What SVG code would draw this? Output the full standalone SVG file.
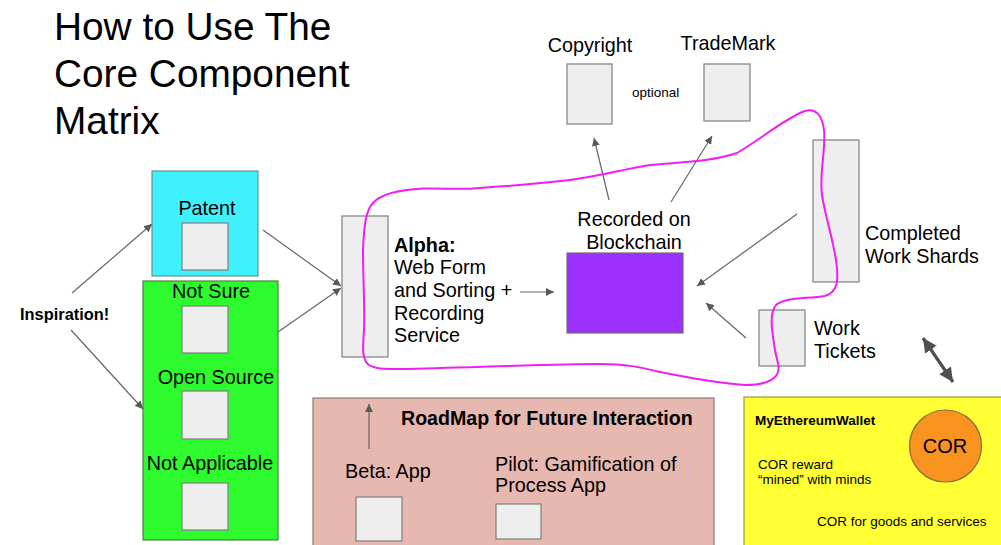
<svg xmlns="http://www.w3.org/2000/svg" width="1001" height="545" viewBox="0 0 1001 545">
  <defs>
    <marker id="arr" viewBox="0 0 10 10" refX="10" refY="5" markerWidth="8" markerHeight="8" markerUnits="userSpaceOnUse" orient="auto">
      <path d="M0,0 L10,5 L0,10 Z" fill="#595959"/>
    </marker>
    <marker id="big" viewBox="0 0 10 10" refX="10" refY="5" markerWidth="4.4" markerHeight="4.4" orient="auto-start-reverse">
      <path d="M0,0 L10,5 L0,10 Z" fill="#505050"/>
    </marker>
  </defs>
  <style>
    text { font-family: "Liberation Sans", Arial, sans-serif; fill: #000; }
    .t  { font-size: 19.8px; }
    .sm { font-size: 13.5px; }
    .b  { font-weight: bold; }
    .mid { text-anchor: middle; }
    .cell { fill: #eeeeee; stroke: #7f7f7f; stroke-width: 1.2; }
    .edge { fill: none; stroke: #666; stroke-width: 1.2; marker-end: url(#arr); }
  </style>

  <rect width="1001" height="545" fill="#ffffff"/>

  <g id="title">
    <text x="54" y="40" style="font-size:38.8px">How to Use The</text>
    <text x="54" y="87" style="font-size:38.8px">Core Component</text>
    <text x="54" y="134" style="font-size:38.8px">Matrix</text>
  </g>

  <g id="inspiration">
    <text x="20" y="320" class="b" style="font-size:16.4px">Inspiration!</text>
  </g>

  <g id="patent">
    <rect x="152" y="171" width="106" height="105" fill="#3ff0fd" stroke="#6a8f94" stroke-width="1.2"/>
    <text x="207" y="215" class="t mid">Patent</text>
    <rect x="182" y="223" width="46" height="47" class="cell"/>
  </g>

  <g id="license-options">
    <rect x="143" y="281" width="135" height="259" fill="#2dfb2d" stroke="#4f7f4f" stroke-width="1.2"/>
    <text x="211" y="298" class="t mid">Not Sure</text>
    <rect x="182" y="306" width="46" height="47" class="cell"/>
    <text x="216" y="384" class="t mid">Open Source</text>
    <rect x="182" y="391" width="46" height="48" class="cell"/>
    <text x="210" y="470" class="t mid">Not Applicable</text>
    <rect x="182" y="483" width="46" height="47" class="cell"/>
  </g>

  <g id="alpha">
    <rect x="342" y="216" width="46" height="141" class="cell"/>
    <text x="394" y="252" class="t b">Alpha:</text>
    <text x="394" y="274" class="t">Web Form</text>
    <text x="394" y="297" class="t">and Sorting +</text>
    <text x="394" y="320" class="t">Recording</text>
    <text x="394" y="342" class="t">Service</text>
  </g>

  <g id="blockchain">
    <text x="634" y="226" class="t mid">Recorded on</text>
    <text x="634" y="249" class="t mid">Blockchain</text>
    <rect x="567" y="253" width="116" height="80" fill="#9b30ff" stroke="#6f6f6f" stroke-width="1.2"/>
  </g>

  <g id="copyright">
    <text x="590" y="52" class="t mid">Copyright</text>
    <rect x="567" y="64" width="45" height="60" class="cell"/>
  </g>

  <g id="optional">
    <text x="632" y="97" class="sm">optional</text>
  </g>

  <g id="trademark">
    <text x="728" y="50" class="t mid">TradeMark</text>
    <rect x="704" y="64" width="46" height="57" class="cell"/>
  </g>

  <g id="work-shards">
    <rect x="813" y="140" width="46" height="142" class="cell"/>
    <text x="865" y="240" class="t">Completed</text>
    <text x="865" y="263" class="t">Work Shards</text>
  </g>

  <g id="work-tickets">
    <rect x="759" y="310" width="46" height="56" class="cell"/>
    <text x="814" y="335" class="t">Work</text>
    <text x="814" y="358" class="t">Tickets</text>
  </g>

  <g id="roadmap">
    <rect x="313" y="398" width="401" height="160" fill="#e6b8af" stroke="#8c7a76" stroke-width="1.2"/>
    <text x="401" y="425" class="b" style="font-size:19.6px">RoadMap for Future Interaction</text>
    <text x="345" y="478" class="t">Beta: App</text>
    <rect x="356" y="497" width="46" height="44" class="cell"/>
    <text x="495" y="471" class="t">Pilot: Gamification of</text>
    <text x="495" y="492" class="t">Process App</text>
    <rect x="496" y="504" width="45" height="35" class="cell"/>
  </g>

  <g id="wallet">
    <rect x="744" y="397" width="270" height="160" fill="#ffff33" stroke="#9a9a40" stroke-width="1.2"/>
    <text x="755" y="425" class="sm b">MyEthereumWallet</text>
    <circle cx="945.5" cy="446" r="36" fill="#f7931e" stroke="#8a6a40" stroke-width="1.2"/>
    <text x="945" y="453" class="mid" style="font-size:20px">COR</text>
    <text x="758" y="469" class="sm">COR reward</text>
    <text x="758" y="484" class="sm">“mined” with minds</text>
    <text x="817" y="526" class="sm">COR for goods and services</text>
  </g>

  <g id="connectors">
    <line x1="72" y1="293" x2="152" y2="224" class="edge"/>
    <line x1="71" y1="330" x2="143" y2="409" class="edge"/>
    <line x1="263" y1="230" x2="341" y2="286" class="edge"/>
    <line x1="278" y1="332" x2="341" y2="288" class="edge"/>
    <line x1="520" y1="292" x2="554" y2="292" class="edge"/>
    <line x1="609" y1="200" x2="594" y2="138" class="edge"/>
    <line x1="671" y1="202" x2="712" y2="136" class="edge"/>
    <line x1="797" y1="214" x2="697" y2="286" class="edge"/>
    <line x1="746" y1="338" x2="706" y2="303" class="edge"/>
    <line x1="369" y1="449" x2="369" y2="404" class="edge"/>
    <line x1="923" y1="338" x2="953" y2="382" stroke="#505050" stroke-width="3.2" marker-start="url(#big)" marker-end="url(#big)"/>
  </g>

  <g id="flow-loop">
    <path d="M363,250 C364,225 366,210 373,203 C380,195 395,190 423,188.5 C445,188 460,190 480,188 C510,186 545,183 570,180 C600,176 620,170 650,165 C680,162 710,162 737,153 C760,140 785,118 805,111 C815,108 822,114 824,130 C826,150 819,175 822,195 C825,215 832,235 836,260 C839,280 838,292 825,296 C805,299 785,297 776,305 C768,315 773,335 775,350 C777,362 782,370 775,377 C768,384 755,385 745,385 C720,383 690,378 660,372 C640,367 625,364 600,364 C560,364 480,367 400,369 C380,369.5 370,368 366,362 C362,355 363,345 364,330 C365,310 363,280 363,250 Z" fill="none" stroke="#f01ef0" stroke-width="2"/>
  </g>
</svg>
